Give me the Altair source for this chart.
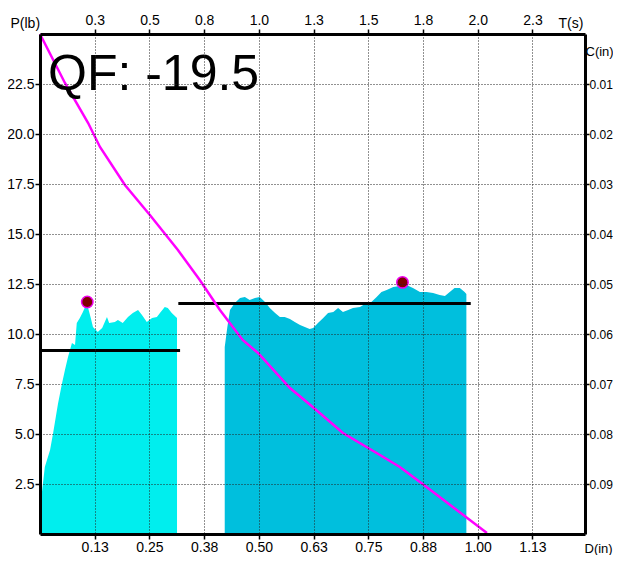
import altair as alt
import pandas as pd

FONT = "Liberation Sans, Arial, sans-serif"

# ---- data ----
# Segment 1 (bright cyan) load profile: D (in), P (lb)
seg1_d = [0.002, 0.004, 0.011, 0.023, 0.030, 0.041, 0.050, 0.057, 0.064, 0.073, 0.080, 0.084,
          0.091, 0.098, 0.107, 0.116, 0.121, 0.132, 0.142, 0.153, 0.158, 0.171, 0.178,
          0.189, 0.201, 0.212, 0.224, 0.233, 0.244, 0.256, 0.267, 0.274, 0.285, 0.292,
          0.301, 0.313]
seg1_p = [1.5, 2.0, 3.35, 4.2, 5.05, 6.5, 7.5, 8.2, 8.85, 9.55, 9.45, 10.55,
          10.8, 11.1, 11.55, 10.8, 10.35, 10.1, 10.3, 10.85, 10.55, 10.6, 10.7,
          10.55, 10.85, 11.05, 11.2, 10.95, 10.6, 10.8, 10.85, 11.05, 11.35, 11.3,
          11.05, 10.8]

# Segment 2 (darker cyan) load profile
seg2_d = [0.422, 0.428, 0.434, 0.445, 0.457, 0.468, 0.479, 0.491, 0.502, 0.514, 0.525,
          0.537, 0.548, 0.559, 0.571, 0.582, 0.594, 0.605, 0.616, 0.624, 0.635, 0.647,
          0.658, 0.670, 0.681, 0.692, 0.704, 0.715, 0.731, 0.746, 0.757, 0.769, 0.780,
          0.792, 0.807, 0.822, 0.837, 0.852, 0.868, 0.883, 0.898, 0.913, 0.925, 0.936,
          0.947, 0.959, 0.970, 0.974]
seg2_p = [9.35, 10.35, 11.2, 11.55, 11.8, 11.85, 11.7, 11.8, 11.85, 11.6, 11.3,
          11.05, 10.85, 10.85, 10.75, 10.6, 10.45, 10.35, 10.25, 10.3, 10.55, 10.8,
          11.05, 11.1, 11.3, 11.1, 11.2, 11.3, 11.35, 11.55, 11.6, 11.85, 12.1,
          12.2, 12.35, 12.4, 12.45, 12.3, 12.1, 12.1, 12.05, 11.95, 11.9, 12.1,
          12.3, 12.3, 12.1, 12.0]

# Average load lines
avg_d_start = [0.0, 0.316]
avg_d_end = [0.320, 0.984]
avg_p = [9.17, 11.53]

# Peak markers
peak_d = [0.108, 0.828]
peak_p = [11.6, 12.58]

# Magenta trace on right axis C (in)
trace_d = [0.0, 0.057, 0.110, 0.137, 0.194, 0.251, 0.315, 0.365, 0.411, 0.463, 0.498,
           0.571, 0.623, 0.692, 0.769, 0.822, 0.874, 0.943, 1.021]
trace_c = [0.0, 0.0098, 0.0178, 0.0226, 0.0302, 0.0362, 0.0432, 0.0492, 0.0552, 0.0612,
           0.0638, 0.0708, 0.0746, 0.0798, 0.0838, 0.0866, 0.0900, 0.0946, 0.0998]

# Axis ticks
p_ticks = [2.5, 5.0, 7.5, 10.0, 12.5, 15.0, 17.5, 20.0, 22.5]
d_ticks = [0.125, 0.25, 0.375, 0.5, 0.625, 0.75, 0.875, 1.0, 1.125]
t_ticks = [0.25, 0.5, 0.75, 1.0, 1.25, 1.5, 1.75, 2.0, 2.25]
c_ticks = [0.01, 0.02, 0.03, 0.04, 0.05, 0.06, 0.07, 0.08, 0.09]

D_MAX = 1.245
P_MAX = 25.0
C_MAX = 0.10
T_MAX = 2 * D_MAX

qf_text = "QF: -19.5"

# ---- tables ----
seg1 = pd.DataFrame({"D": seg1_d, "P": seg1_p})
seg2 = pd.DataFrame({"D": seg2_d, "P": seg2_p})
avg = pd.DataFrame({"D": avg_d_start, "D2": avg_d_end, "P": avg_p})
peaks = pd.DataFrame({"D": peak_d, "P": peak_p})
trace = pd.DataFrame({"D": trace_d, "C": trace_c})
tdf = pd.DataFrame({"T": [0.0, T_MAX]})

dscale = alt.Scale(domain=[0, D_MAX], nice=False, zero=False)
pscale = alt.Scale(domain=[0, P_MAX], nice=False, zero=False)

common_axis = dict(
    labelFont=FONT, labelColor="black",
    titleFont=FONT, titleFontWeight="normal", titleColor="black",
    domainColor="black", domainWidth=3,
    tickColor="black", tickWidth=1.5,
    gridColor="#222222", gridDash=[1, 2], gridWidth=1, gridOpacity=1,
    zindex=1,
)

x_d = alt.X("D:Q", scale=dscale,
            axis=alt.Axis(values=d_ticks, format=".2f", orient="bottom", grid=True,
                          title="D(in)", titleAngle=0, titleAlign="left",
                          titleBaseline="alphabetic", titleX=544, titleY=18,
                          labelFontSize=14, titleFontSize=13, tickSize=5,
                          labelPadding=1, **common_axis))
y_p = alt.Y("P:Q", scale=pscale,
            axis=alt.Axis(values=p_ticks, format=".1f", orient="left", grid=True,
                          title="P(lb)", titleAngle=0, titleAlign="left",
                          titleBaseline="alphabetic", titleX=-30, titleY=-7,
                          labelFontSize=14, titleFontSize=14, tickSize=5,
                          labelPadding=1, **common_axis))

area1 = alt.Chart(seg1).mark_area(color="#00EEEE", opacity=1, interpolate="linear").encode(
    x=x_d, y=y_p)
area2 = alt.Chart(seg2).mark_area(color="#00BFDD", opacity=1, interpolate="linear").encode(
    x=alt.X("D:Q", scale=dscale), y=alt.Y("P:Q", scale=pscale))
avg_lines = alt.Chart(avg).mark_rule(color="black", strokeWidth=3).encode(
    x=alt.X("D:Q", scale=dscale), x2="D2:Q", y=alt.Y("P:Q", scale=pscale))
peak_pts = alt.Chart(peaks).mark_point(filled=True, fill="#800000", stroke="#EE00EE",
                                       strokeWidth=1.5, size=130, opacity=1).encode(
    x=alt.X("D:Q", scale=dscale), y=alt.Y("P:Q", scale=pscale))

inner = alt.layer(area1, area2, avg_lines, peak_pts)

trace_line = alt.Chart(trace).mark_line(color="#FF00FF", strokeWidth=2.5).encode(
    x=alt.X("D:Q", scale=alt.Scale(domain=[0, D_MAX], nice=False, zero=False), axis=None),
    y=alt.Y("C:Q", scale=alt.Scale(domain=[0, C_MAX], reverse=True, nice=False, zero=False),
            axis=alt.Axis(values=c_ticks, format=".2f", orient="right", grid=False,
                          title="C(in)", titleAngle=0, titleAlign="left",
                          titleBaseline="alphabetic", titleX=0, titleY=21,
                          labelFontSize=12, titleFontSize=13, tickSize=4,
                          labelPadding=0, **common_axis)))

top_axis = alt.Chart(tdf).mark_rule(opacity=0).encode(
    x=alt.X("T:Q", scale=alt.Scale(domain=[0, T_MAX], nice=False, zero=False),
            axis=alt.Axis(values=t_ticks, format=".1f", orient="top", grid=False,
                          title="T(s)", titleAngle=0, titleAlign="left",
                          titleBaseline="alphabetic", titleX=518, titleY=-7,
                          labelFontSize=14, titleFontSize=14, tickSize=5,
                          labelPadding=2, **common_axis)))

qf = alt.Chart(pd.DataFrame({"t": [qf_text]})).mark_text(
    font=FONT, fontSize=50, align="left", baseline="alphabetic", color="black").encode(
    x=alt.value(8), y=alt.value(56), text="t:N")

chart = alt.layer(inner, trace_line, top_axis, qf).resolve_scale(
    x="independent", y="independent"
).properties(
    width=545, height=500,
    autosize=alt.AutoSizeParams(type="none"),
    padding={"left": 32, "top": 26, "right": 28, "bottom": 21},
).configure_view(stroke=None).configure(background="white")

chart.save("out.html", embed_options={"renderer": "svg", "actions": False})
